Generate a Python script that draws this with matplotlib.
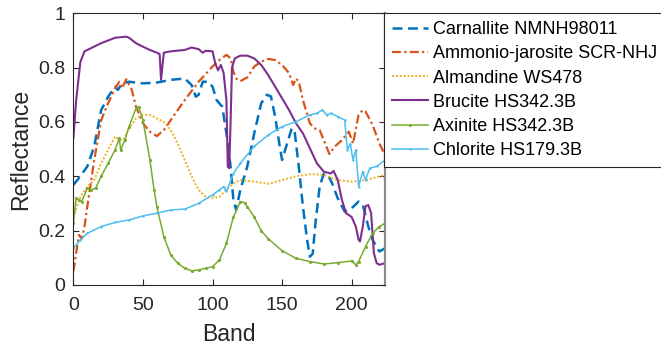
import matplotlib
matplotlib.use("Agg")
import matplotlib.pyplot as plt

plt.rcParams['font.family'] = ['Liberation Sans', 'DejaVu Sans']

# Carnallite NMNH98011
carn_x = [0, 5, 10, 15, 20, 25, 30, 32, 35, 40, 50, 60, 70, 80, 85, 88, 90, 93, 97, 100,
          103, 107, 110, 113, 115, 117, 120, 125, 130, 135, 139, 142, 145, 148, 150, 153,
          157, 159, 162, 165, 168, 170, 172, 174, 177, 180, 183, 186, 190, 195, 200, 205,
          208, 212, 215, 220, 224]
carn_y = [0.368, 0.40, 0.436, 0.51, 0.644, 0.693, 0.73, 0.718, 0.742, 0.748, 0.742, 0.745,
          0.755, 0.76, 0.736, 0.693, 0.70, 0.748, 0.748, 0.73, 0.68, 0.656, 0.558, 0.436,
          0.313, 0.276, 0.35, 0.436, 0.558, 0.669, 0.70, 0.694, 0.62, 0.52, 0.46, 0.51,
          0.577, 0.565, 0.436, 0.288, 0.166, 0.104, 0.115, 0.227, 0.362, 0.41, 0.405,
          0.374, 0.319, 0.27, 0.282, 0.307, 0.295, 0.215, 0.166, 0.123, 0.135]

# Ammonio-jarosite SCR-NHJ
amm_x = [0, 2, 4, 6, 8, 10, 15, 20, 25, 30, 33, 35, 38, 42, 45, 50, 55, 60, 65, 70, 80,
         90, 100, 105, 110, 113, 115, 117, 120, 125, 130, 135, 140, 145, 150, 155, 158,
         160, 162, 165, 170, 173, 177, 180, 184, 188, 193, 198, 201, 205, 208, 210, 215,
         220, 224]
amm_y = [0.05, 0.117, 0.184, 0.17, 0.215, 0.288, 0.46, 0.607, 0.669, 0.724, 0.748, 0.724,
         0.757, 0.718, 0.656, 0.595, 0.564, 0.548, 0.57, 0.607, 0.68, 0.748, 0.804, 0.828,
         0.847, 0.834, 0.785, 0.76, 0.75, 0.764, 0.804, 0.822, 0.832, 0.828, 0.81, 0.78,
         0.736, 0.76, 0.748, 0.68, 0.595, 0.577, 0.57, 0.533, 0.482, 0.51, 0.533, 0.564,
         0.52, 0.626, 0.644, 0.638, 0.59, 0.52, 0.478]

# Almandine WS478
alm_x = [0, 5, 10, 15, 20, 25, 30, 33, 36, 40, 45, 50, 55, 60, 65, 70, 75, 80, 85, 90,
         95, 100, 105, 110, 115, 120, 130, 140, 150, 160, 170, 180, 190, 200, 210, 224]
alm_y = [0.25, 0.325, 0.362, 0.386, 0.448, 0.497, 0.546, 0.534, 0.534, 0.577, 0.613,
         0.626, 0.626, 0.613, 0.60, 0.57, 0.52, 0.46, 0.40, 0.35, 0.325, 0.319, 0.325,
         0.35, 0.374, 0.386, 0.38, 0.372, 0.386, 0.40, 0.408, 0.405, 0.386, 0.38, 0.386,
         0.405]

# Brucite HS342.3B
bru_x = [0, 2, 5, 8, 12, 20, 30, 38, 40, 45, 50, 55, 60, 62, 63, 65, 70, 80, 85, 90, 93,
         95, 100, 102, 104, 106, 108, 110, 111, 112, 113, 114, 116, 120, 125, 130, 135,
         140, 145, 150, 155, 160, 165, 170, 175, 180, 185, 187, 190, 193, 196, 200, 203,
         205, 206, 208, 210, 212, 214, 216, 218, 220, 224]
bru_y = [0.54, 0.68, 0.82, 0.86, 0.87, 0.89, 0.91, 0.914, 0.91, 0.89, 0.877, 0.865, 0.855,
         0.85, 0.755, 0.855, 0.86, 0.865, 0.874, 0.868, 0.855, 0.862, 0.86, 0.815, 0.79,
         0.81, 0.78, 0.68, 0.435, 0.43, 0.60, 0.80, 0.834, 0.844, 0.844, 0.834, 0.81,
         0.773, 0.73, 0.687, 0.644, 0.595, 0.558, 0.503, 0.448, 0.417, 0.41, 0.42, 0.386,
         0.313, 0.264, 0.25, 0.215, 0.166, 0.16, 0.215, 0.29, 0.294, 0.264, 0.117, 0.08,
         0.074, 0.08]

# Axinite HS342.3B
axi_x = [0, 2, 4, 6, 10, 13, 16, 20, 25, 30, 33, 34, 37, 40, 45, 47, 50, 55, 58, 60, 65,
         70, 75, 80, 85, 90, 95, 100, 105, 110, 115, 120, 123, 125, 130, 135, 140, 150,
         160, 170, 180, 190, 200, 203, 205, 210, 215, 220, 224]
axi_y = [0.227, 0.32, 0.313, 0.307, 0.356, 0.35, 0.356, 0.40, 0.448, 0.497, 0.54, 0.497,
         0.534, 0.583, 0.65, 0.656, 0.607, 0.46, 0.35, 0.288, 0.178, 0.11, 0.08, 0.061,
         0.052, 0.055, 0.061, 0.067, 0.092, 0.153, 0.25, 0.307, 0.303, 0.288, 0.25, 0.2,
         0.17, 0.126, 0.098, 0.086, 0.077, 0.082, 0.088, 0.074, 0.086, 0.141, 0.19, 0.215,
         0.227]

# Chlorite HS179.3B
chl_x = [0, 5, 10, 20, 30, 40, 50, 60, 70, 80, 90, 100, 105, 108, 110, 115, 120, 130, 140,
         150, 160, 170, 175, 179, 182, 185, 190, 195, 197, 199, 201, 203, 205, 208, 210,
         213, 218, 224]
chl_y = [0.135, 0.166, 0.19, 0.215, 0.23, 0.239, 0.254, 0.264, 0.276, 0.279, 0.30, 0.331,
         0.35, 0.362, 0.344, 0.41, 0.448, 0.51, 0.552, 0.583, 0.601, 0.626, 0.632, 0.644,
         0.626, 0.632, 0.62, 0.607, 0.497, 0.52, 0.46, 0.497, 0.362, 0.417, 0.386, 0.43,
         0.436, 0.46]

fig = plt.figure(figsize=(6.61, 3.5), dpi=100)
ax = fig.add_axes([0.111, 0.186, 0.4715, 0.776])

ax.plot(carn_x, carn_y, color='#0072BD', linestyle=(0, (4, 2.2)), linewidth=1.8,
        label='Carnallite NMNH98011')
ax.plot(amm_x, amm_y, color='#D95319', linestyle=(0, (4, 1.5, 1, 1.5)), linewidth=1.6,
        label='Ammonio-jarosite SCR-NHJ')
ax.plot(alm_x, alm_y, color='#EDB120', linestyle=(0, (1, 1)), linewidth=1.4,
        label='Almandine WS478')
ax.plot(bru_x, bru_y, color='#7E2F8E', linestyle='-', linewidth=1.5,
        label='Brucite HS342.3B')
ax.plot(axi_x, axi_y, color='#77AC30', linestyle='-', linewidth=1.1, marker='.',
        markersize=2.5, label='Axinite HS342.3B')
ax.plot(chl_x, chl_y, color='#4DBEEE', linestyle='-', linewidth=1.1, marker='.',
        markersize=1.5, label='Chlorite HS179.3B')

ax.set_xlim(0, 224)
ax.set_ylim(0, 1)
ax.set_xticks([0, 50, 100, 150, 200])
ax.set_yticks([0, 0.2, 0.4, 0.6, 0.8, 1])
ax.set_yticklabels(['0', '0.2', '0.4', '0.6', '0.8', '1'])
ax.tick_params(direction='in', top=True, right=True, length=4, labelsize=14,
               colors='#262626')
ax.tick_params(axis='x', pad=9)
ax.tick_params(axis='y', pad=6)
for s in ax.spines.values():
    s.set_color('#262626')
    s.set_linewidth(0.8)
ax.spines['right'].set_color('#8a8a8a')
ax.spines['right'].set_linewidth(1.6)

ax.set_xlabel('Band', fontsize=16.5, color='#262626', labelpad=6)
ax.set_ylabel('Reflectance', fontsize=16.5, color='#262626', labelpad=4)

leg = fig.legend(loc='upper left', bbox_to_anchor=(384 / 661, 1 - 13 / 350),
                 borderaxespad=0, fontsize=13, frameon=True, fancybox=False,
                 handlelength=2.0, handletextpad=0.25, labelspacing=0.4,
                 borderpad=0.45)
leg.get_frame().set_edgecolor('#262626')
leg.get_frame().set_linewidth(0.8)
leg.get_frame().set_alpha(1)

fig.savefig('out.png', dpi=100)
